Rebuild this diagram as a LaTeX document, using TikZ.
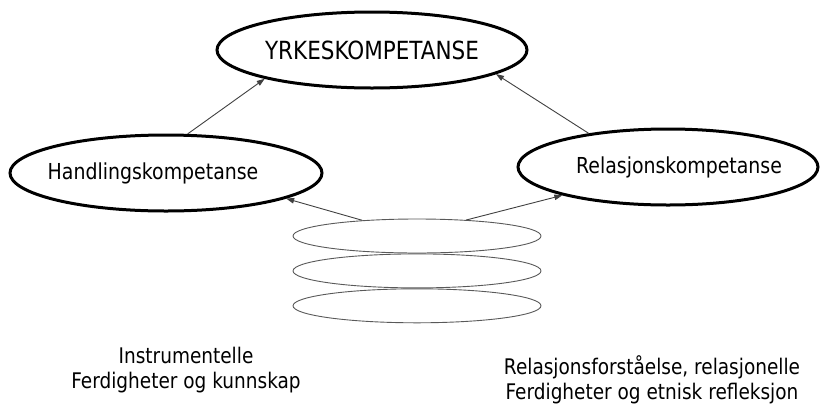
\documentclass[tikz,border=0pt]{standalone}
\usepackage{fontspec}
\setmainfont{DejaVu Sans}[FakeStretch=0.86]
\usepackage{tikz}
\usetikzlibrary{arrows.meta, positioning, shapes.geometric}

\begin{document}
\begin{tikzpicture}[
  x=1pt, y=-1pt,
  node distance=0pt,
  oval/.style={ellipse,draw=black,line width=3pt,inner sep=0pt,minimum height=76pt},
  ovaltext/.style={font=\fontsize{22}{26}\selectfont},
  disc/.style={ellipse,draw=black!65,line width=0.9pt,inner sep=0pt,
    minimum width=248pt,minimum height=34pt},
  note/.style={align=center,font=\fontsize{21.5}{25}\selectfont},
  arrow/.style={-{Triangle[length=8pt,width=5.5pt]},draw=black!75,line width=0.9pt}
]
\useasboundingbox (0,0) rectangle (821,405);
\node[oval,minimum width=310pt,font=\fontsize{25}{30}\selectfont] (yrke) at (372,50) {YRKESKOMPETANSE};
\node[oval,minimum width=312pt,label={[ovaltext,xshift=-13pt]center:Handlingskompetanse}] (hand) at (166,173) {};
\node[oval,minimum width=300pt,label={[ovaltext,xshift=11pt]center:Relasjonskompetanse}] (rel) at (668,167) {};
\node[disc] (s1) at (417,236) {};
\node[disc,below=of s1] (s2) {};
\node[disc,below=of s2] (s3) {};
\node[note] (instr) at (186,370) {Instrumentelle\\Ferdigheter og kunnskap};
\node[note] (relf) at (652,380) {Relasjonsforståelse, relasjonelle\\Ferdigheter og etnisk refleksjon};
\draw[arrow] (hand.61) -- (yrke.195);
\draw[arrow] (rel.157) -- (yrke.-11);
\draw[arrow] (s1.164) -- (hand.-12);
\draw[arrow] (s1.18) -- (rel.195);
\end{tikzpicture}
\end{document}
